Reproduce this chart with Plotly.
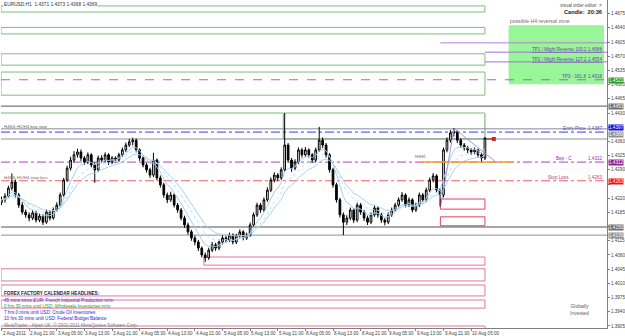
import plotly.graph_objects as go
import pandas as pd

# ---------------- data ----------------
opens = [1.4210, 1.4216, 1.4225, 1.4245, 1.4260, 1.4228, 1.4203, 1.4186,
         1.4179, 1.4171, 1.4184, 1.4166, 1.4176, 1.4161, 1.4186, 1.4171,
         1.4191, 1.4203, 1.4228, 1.4265, 1.4294, 1.4314, 1.4327, 1.4334,
         1.4319, 1.4309, 1.4327, 1.4302, 1.4290, 1.4319, 1.4314, 1.4327,
         1.4309, 1.4319, 1.4314, 1.4327, 1.4339, 1.4351, 1.4359, 1.4363,
         1.4339, 1.4319, 1.4302, 1.4290, 1.4277, 1.4314, 1.4270, 1.4253,
         1.4228, 1.4216, 1.4228, 1.4203, 1.4191, 1.4171, 1.4154, 1.4137,
         1.4122, 1.4112, 1.4097, 1.4080, 1.4073, 1.4092, 1.4105, 1.4097,
         1.4112, 1.4122, 1.4117, 1.4129, 1.4112, 1.4127, 1.4137, 1.4122,
         1.4129, 1.4154, 1.4179, 1.4203, 1.4191, 1.4216, 1.4240, 1.4265,
         1.4277, 1.4270, 1.4290, 1.4351, 1.4314, 1.4294, 1.4309, 1.4339,
         1.4327, 1.4339, 1.4327, 1.4314, 1.4339, 1.4363, 1.4351, 1.4327,
         1.4290, 1.4253, 1.4216, 1.4179, 1.4161, 1.4171, 1.4191, 1.4166,
         1.4203, 1.4186, 1.4171, 1.4161, 1.4179, 1.4196, 1.4179, 1.4166,
         1.4161, 1.4179, 1.4191, 1.4203, 1.4216, 1.4228, 1.4203, 1.4216,
         1.4191, 1.4203, 1.4228, 1.4216, 1.4240, 1.4265, 1.4275, 1.4240,
         1.4228, 1.4339, 1.4363, 1.4381, 1.4383, 1.4363, 1.4351, 1.4344,
         1.4339, 1.4334, 1.4339, 1.4327, 1.4319]
closes = [1.4216, 1.4225, 1.4245, 1.4260, 1.4228, 1.4203, 1.4186, 1.4179,
          1.4171, 1.4184, 1.4166, 1.4176, 1.4161, 1.4186, 1.4171, 1.4191,
          1.4203, 1.4228, 1.4265, 1.4294, 1.4314, 1.4327, 1.4334, 1.4319,
          1.4309, 1.4327, 1.4302, 1.4290, 1.4319, 1.4314, 1.4327, 1.4309,
          1.4319, 1.4314, 1.4327, 1.4339, 1.4351, 1.4359, 1.4363, 1.4339,
          1.4319, 1.4302, 1.4290, 1.4277, 1.4314, 1.4270, 1.4253, 1.4228,
          1.4216, 1.4228, 1.4203, 1.4191, 1.4171, 1.4154, 1.4137, 1.4122,
          1.4112, 1.4097, 1.4080, 1.4073, 1.4092, 1.4105, 1.4097, 1.4112,
          1.4122, 1.4117, 1.4129, 1.4112, 1.4127, 1.4137, 1.4122, 1.4129,
          1.4154, 1.4179, 1.4203, 1.4191, 1.4216, 1.4240, 1.4265, 1.4277,
          1.4270, 1.4290, 1.4351, 1.4314, 1.4294, 1.4309, 1.4339, 1.4327,
          1.4339, 1.4327, 1.4314, 1.4339, 1.4363, 1.4351, 1.4327, 1.4290,
          1.4253, 1.4216, 1.4179, 1.4161, 1.4171, 1.4191, 1.4166, 1.4203,
          1.4186, 1.4171, 1.4161, 1.4179, 1.4196, 1.4179, 1.4166, 1.4161,
          1.4179, 1.4191, 1.4203, 1.4216, 1.4228, 1.4203, 1.4216, 1.4191,
          1.4203, 1.4228, 1.4216, 1.4240, 1.4265, 1.4275, 1.4240, 1.4228,
          1.4339, 1.4363, 1.4381, 1.4383, 1.4363, 1.4351, 1.4344, 1.4339,
          1.4334, 1.4339, 1.4327, 1.4319, 1.4368]
highs = [1.4224, 1.4232, 1.4251, 1.4281, 1.4266, 1.4233, 1.4210, 1.4192,
         1.4185, 1.4190, 1.4189, 1.4182, 1.4180, 1.4192, 1.4190, 1.4197,
         1.4210, 1.4234, 1.4270, 1.4300, 1.4322, 1.4336, 1.4342, 1.4340,
         1.4324, 1.4333, 1.4331, 1.4308, 1.4325, 1.4326, 1.4333, 1.4331,
         1.4324, 1.4323, 1.4332, 1.4345, 1.4357, 1.4366, 1.4369, 1.4367,
         1.4343, 1.4324, 1.4307, 1.4295, 1.4332, 1.4318, 1.4276, 1.4258,
         1.4234, 1.4236, 1.4232, 1.4208, 1.4196, 1.4177, 1.4160, 1.4142,
         1.4128, 1.4117, 1.4101, 1.4086, 1.4098, 1.4112, 1.4110, 1.4118,
         1.4128, 1.4127, 1.4135, 1.4133, 1.4132, 1.4143, 1.4141, 1.4135,
         1.4160, 1.4185, 1.4209, 1.4208, 1.4222, 1.4247, 1.4271, 1.4284,
         1.4282, 1.4296, 1.4430, 1.4356, 1.4319, 1.4316, 1.4345, 1.4344,
         1.4346, 1.4343, 1.4331, 1.4345, 1.4396, 1.4370, 1.4356, 1.4331,
         1.4295, 1.4258, 1.4221, 1.4185, 1.4178, 1.4197, 1.4196, 1.4209,
         1.4208, 1.4191, 1.4177, 1.4185, 1.4202, 1.4200, 1.4184, 1.4171,
         1.4185, 1.4197, 1.4209, 1.4222, 1.4235, 1.4232, 1.4222, 1.4220,
         1.4209, 1.4234, 1.4233, 1.4246, 1.4271, 1.4282, 1.4279, 1.4245,
         1.4345, 1.4370, 1.4388, 1.4393, 1.4387, 1.4368, 1.4356, 1.4349,
         1.4344, 1.4345, 1.4342, 1.4331, 1.4371]
lows = [1.4203, 1.4209, 1.4220, 1.4239, 1.4222, 1.4196, 1.4180, 1.4172,
        1.4163, 1.4166, 1.4160, 1.4161, 1.4154, 1.4157, 1.4165, 1.4167,
        1.4186, 1.4199, 1.4224, 1.4260, 1.4288, 1.4308, 1.4320, 1.4312,
        1.4302, 1.4304, 1.4296, 1.4258, 1.4285, 1.4307, 1.4309, 1.4302,
        1.4304, 1.4308, 1.4310, 1.4322, 1.4334, 1.4346, 1.4350, 1.4333,
        1.4312, 1.4296, 1.4283, 1.4270, 1.4272, 1.4264, 1.4246, 1.4221,
        1.4208, 1.4211, 1.4197, 1.4184, 1.4165, 1.4147, 1.4130, 1.4115,
        1.4104, 1.4090, 1.4074, 1.4063, 1.4068, 1.4087, 1.4090, 1.4092,
        1.4106, 1.4110, 1.4112, 1.4106, 1.4107, 1.4121, 1.4116, 1.4117,
        1.4125, 1.4149, 1.4174, 1.4184, 1.4186, 1.4211, 1.4235, 1.4259,
        1.4262, 1.4265, 1.4286, 1.4307, 1.4285, 1.4289, 1.4304, 1.4320,
        1.4322, 1.4320, 1.4307, 1.4309, 1.4334, 1.4344, 1.4320, 1.4283,
        1.4246, 1.4209, 1.4172, 1.4129, 1.4154, 1.4166, 1.4159, 1.4161,
        1.4179, 1.4164, 1.4154, 1.4156, 1.4174, 1.4172, 1.4159, 1.4153,
        1.4156, 1.4174, 1.4186, 1.4198, 1.4211, 1.4197, 1.4198, 1.4185,
        1.4186, 1.4198, 1.4210, 1.4211, 1.4235, 1.4259, 1.4234, 1.4200,
        1.4222, 1.4333, 1.4357, 1.4372, 1.4356, 1.4344, 1.4337, 1.4331,
        1.4327, 1.4328, 1.4320, 1.4307, 1.4314]

time_labels = ["2 Aug 2011", "2 Aug 21:00", "3 Aug 05:00", "3 Aug 13:00", "3 Aug 21:00",
               "4 Aug 05:00", "4 Aug 13:00", "4 Aug 21:00", "5 Aug 05:00", "5 Aug 13:00",
               "5 Aug 21:00", "8 Aug 05:00", "8 Aug 13:00", "8 Aug 21:00", "9 Aug 05:00",
               "9 Aug 13:00", "9 Aug 21:00", "10 Aug 05:00"]
time_label_bars = [0, 8, 16, 24, 32, 40, 48, 56, 64, 72, 80, 88, 96, 104, 112, 120, 128, 136]

# tick labels hidden under the coloured price boxes are left blank
price_ticks = [1.3905, 1.3940, 1.3975, 1.4010, 1.4045, 1.4080, 1.4115, 1.4150, 1.4185,
               1.4220, 1.4255, 1.4290, 1.4325, 1.4360, 1.4395, 1.4430, 1.4465, 1.4500,
               1.4535, 1.4570, 1.4605, 1.4640, 1.4675]
price_tick_text = ["1.3905", "1.3940", "1.3975", "1.4010", "1.4045", "1.4080", "1.4115",
                   "", "1.4185", "1.4220", "", "1.4290", "1.4325", "1.4360",
                   "", "1.4430", "1.4465", "1.4500", "1.4535", "1.4570", "1.4605",
                   "1.4640", "1.4675"]

# drawn objects (price levels)
green_rect_tops = [1.4694, 1.4641, 1.4576, 1.4531]
green_rect_bots = [1.4679, 1.4625, 1.4548, 1.4474]
spike_rect = [1.4430, 1.4366]
pink_rect_tops = [1.4075, 1.4046, 1.4006, 1.3969, 1.3905]
pink_rect_bots = [1.4055, 1.4016, 1.3979, 1.3949, 1.3880]
pink_rect_start = [58.6, -0.15, -0.15, -0.15, -0.15]
red_rect_tops = [1.4218, 1.4174]
red_rect_bots = [1.4193, 1.4152]
zone_top, zone_bot = 1.4645, 1.4502
tp1_level, tp2_level, tp3_level = 1.4580, 1.4556, 1.4512
upper_purple_level = 1.4603
resistance_level = 1.4447
light_green_level = 1.4430
buy_stop_level, entry_level, bid_level = 1.4391, 1.4383, 1.4366
bep_level = 1.4309
stop_loss_level = 1.4263
support_levels = [1.4149, 1.4129]

axis_boxes = [("1.4521", 1.4510, "#2e9a2e", "white"),
              ("1.4453", 1.4447, "#707070", "white"),
              ("1.4397", 1.4395, "#1010e0", "white"),
              ("1.4369", 1.4378, "#909090", "white"),
              ("1.4312", 1.4309, "#902090", "white"),
              ("1.4263", 1.4262, "#f01010", "white"),
              ("1.4150", 1.4149, "#707070", "white"),
              ("1.4130", 1.4129, "#909090", "white")]

bars = list(range(len(closes)))
LAST = 140
FONT = "Liberation Sans"

fig = go.Figure()

# moving averages (light blue)
cs = pd.Series(closes)
for span, col, dash in [(6, "#9fd0f0", "solid"), (10, "#b8def5", "dot"), (14, "#a8d4f2", "solid")]:
    ma = cs.ewm(span=span, adjust=False).mean()
    fig.add_trace(go.Scatter(x=bars, y=ma, mode="lines",
                             line=dict(color=col, width=1, dash=dash),
                             hoverinfo="skip", showlegend=False))

fig.add_trace(go.Candlestick(
    x=bars, open=opens, high=highs, low=lows, close=closes,
    increasing=dict(line=dict(color="#000000", width=1), fillcolor="#ffffff"),
    decreasing=dict(line=dict(color="#000000", width=1), fillcolor="#000000"),
    whiskerwidth=0, showlegend=False))

shapes = []
XMIN, XMAX = -0.15, 175.35

def hline(y, color, dash="solid", width=1, x0=XMIN, x1=XMAX):
    shapes.append(dict(type="line", xref="x", yref="y", x0=x0, x1=x1, y0=y, y1=y,
                       line=dict(color=color, width=width, dash=dash), layer="below"))

def rect(y0, y1, color, x0=XMIN, x1=LAST, fill="rgba(0,0,0,0)", width=1):
    shapes.append(dict(type="rect", xref="x", yref="y", x0=x0, x1=x1, y0=y0, y1=y1,
                       line=dict(color=color, width=width), fillcolor=fill, layer="below"))

# reversal zone
rect(zone_bot, zone_top, "#98f098", x0=147.0, x1=174.3, fill="#98f598")

for t, b in zip(green_rect_tops, green_rect_bots):
    rect(b, t, "#7cbf7c")
rect(spike_rect[1], spike_rect[0], "#6aa86a", x0=81.6)
hline(light_green_level, "#b8e0b8", width=2, x1=LAST)
for t, b, s in zip(pink_rect_tops, pink_rect_bots, pink_rect_start):
    rect(b, t, "#e07aa0", x0=s)
for t, b in zip(red_rect_tops, red_rect_bots):
    rect(b, t, "#e04060", x0=127.1)

hline(upper_purple_level, "#b080e0", x0=127.1)
hline(tp1_level, "#a070d8", x0=140)
hline(tp2_level, "#a070d8", x0=140)
hline(tp3_level, "#9a6ad0", dash="dash")
hline(resistance_level, "#505860")
hline(buy_stop_level, "#8888a0")
hline(entry_level, "#3a3ae0", dash="dashdot")
hline(bid_level, "#9090a0")
hline(bep_level, "#b040c0", dash="dashdot")
shapes.append(dict(type="line", xref="x", yref="y", x0=121.4, x1=148.4, y0=bep_level, y1=bep_level,
                   line=dict(color="#ffa020", width=1.5)))
hline(stop_loss_level, "#f06060", dash="dashdot")
hline(support_levels[0], "#505050")
hline(support_levels[1], "#909090")

# trend lines
shapes.append(dict(type="line", xref="x", yref="y", x0=131.2, y0=1.4391, x1=143.5, y1=1.4307,
                   line=dict(color="#b090d8", width=1)))
shapes.append(dict(type="line", xref="x", yref="y", x0=127.3, y0=1.4205, x1=131.0, y1=1.4390,
                   line=dict(color="#b090d8", width=1)))
shapes.append(dict(type="line", xref="x", yref="y", x0=140, y0=1.4366, x1=142.4, y1=1.4366,
                   line=dict(color="#303030", width=1)))

fig.add_trace(go.Scatter(x=[142.6], y=[1.4366], mode="markers",
                         marker=dict(symbol="square", size=4, color="#f02020"),
                         hoverinfo="skip", showlegend=False))

ann = []

def text(x, y, s, size=4.6, color="#404040", xanchor="left", yanchor="middle", xref="x", yref="y", bg=None):
    d = dict(x=x, y=y, xref=xref, yref=yref, text=s, showarrow=False, xanchor=xanchor,
             yanchor=yanchor, font=dict(family=FONT, size=size, color=color), borderpad=0)
    if bg:
        d["bgcolor"] = bg
    ann.append(d)

# header
text(0.003, 0.985, "EURUSD,H1  1.4371 1.4373 1.4368 1.4369", size=4.8, color="#303030",
     xref="paper", yref="paper", bg="#ffffff")
text(0.994, 0.982, "visual order editor  \u00d7", size=4.6, color="#505050",
     xanchor="right", xref="paper", yref="paper")
text(0.994, 0.962, "<b>Candle:  20:36</b>", size=5.6, color="#202020",
     xanchor="right", xref="paper", yref="paper")
text(147.0, 1.4657, "possible H4 reversal zone", size=5.2, color="#707070")

# right-side labels
text(174.3, tp1_level + 0.0007, "<u>TP1 / Might Reverse 100.2 1.4588</u>", size=4.6, color="#7040b0", xanchor="right")
text(174.3, tp2_level + 0.0007, "<u>TP2 / Might Reverse 127.2 1.4554</u>", size=4.6, color="#7040b0", xanchor="right")
text(169.5, tp3_level + 0.0008, "TP3 - 161.8", size=4.6, color="#7040b0", xanchor="right")
text(174.3, tp3_level + 0.0008, "1.4518", size=4.6, color="#7040b0", xanchor="right")
text(169.5, 1.4393, "Entry Price", size=4.6, color="#5050c0", xanchor="right")
text(174.3, 1.4393, "1.4387", size=4.6, color="#5050c0", xanchor="right")
text(165.5, bep_level + 0.0008, "Bep - C", size=4.6, color="#9030a0", xanchor="right")
text(174.3, bep_level + 0.0008, "1.4312", size=4.6, color="#9030a0", xanchor="right")
text(164.5, stop_loss_level + 0.0008, "Stop Loss", size=4.6, color="#c04080", xanchor="right")
text(174.3, stop_loss_level + 0.0008, "1.4263", size=4.6, color="#c04080", xanchor="right")
text(119.4, 1.4322, "reset", size=4.6, color="#707070")

# left labels
text(0.3, 1.4397, "H4SS H1/H4 buy stop", size=4.4, color="#606080")
text(0.3, 1.4270, "H4SS H1/H4 stop loss", size=4.4, color="#806060")

# calendar block
cal = [("<b>FOREX FACTORY CALENDAR HEADLINES:</b>", "#202050", 293),
       ("45 mins since EUR: French Industrial Production m/m", "#6a2ad0", 300),
       ("0 hrs 30 mins until USD: Wholesale Inventories m/m", "#2a9a2a", 306),
       ("7 hrs 0 mins until USD: Crude Oil Inventories", "#2a2ad0", 312),
       ("10 hrs 30 mins until USD: Federal Budget Balance", "#2a2ad0", 318),
       ("MetaTrader - Alpari UK, \u00a9 2001-2011 MetaQuotes Software Corp.", "#808080", 325)]
for s, c, py in cal:
    text(2 / 625, 1 - py / 328, s, size=4.6, color=c, xref="paper", yref="paper")

# watermark
text(0.955, 0.055, "Globally<br>Invested", size=5, color="#606060", xanchor="center", xref="paper", yref="paper")

# axis colored boxes
for s, y, bg, fc in axis_boxes:
    text(1.002, y, s, size=4.6, color=fc, xref="paper", bg=bg)

# time labels
for b, s in zip(time_label_bars, time_labels):
    ann.append(dict(x=b, y=0, xref="x", yref="paper", text=s, showarrow=False,
                    xanchor="left", yanchor="top", xshift=-1, yshift=-1,
                    font=dict(family=FONT, size=4.6, color="#404040")))

fig.update_layout(
    width=625, height=336, margin=dict(l=1, r=15, t=0, b=8),
    paper_bgcolor="#ffffff", plot_bgcolor="#ffffff",
    shapes=shapes, annotations=ann, showlegend=False,
    font=dict(family=FONT, size=5),
    xaxis=dict(range=[XMIN, XMAX], rangeslider=dict(visible=False), showgrid=False,
               zeroline=False, tickvals=time_label_bars, ticktext=["" for _ in time_labels],
               ticks="outside", ticklen=2, tickcolor="#808080", showline=True,
               linecolor="#808080", linewidth=1),
    yaxis=dict(range=[1.3900, 1.47086], side="right", showgrid=False, zeroline=False,
               tickvals=price_ticks, ticktext=price_tick_text, ticks="outside", ticklen=2,
               tickcolor="#808080", tickfont=dict(family=FONT, size=4.6, color="#404040"),
               showline=True, linecolor="#808080", linewidth=1),
)

fig.write_html("out.html")
